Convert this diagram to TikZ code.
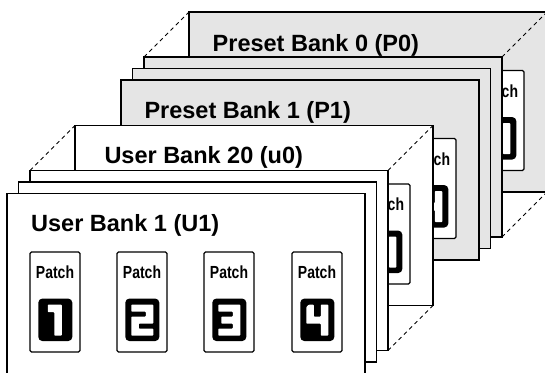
\documentclass[tikz,border=0pt]{standalone}
\usepackage{graphicx}
\usepackage{fontspec}
\setmainfont{Liberation Sans}
\tikzset{
  x=1pt, y=-1pt,
  cardbox/.style={draw=black, line width=1.4pt, minimum width=358pt, minimum height=180pt,
    inner sep=0pt, outer sep=0pt, anchor=north west},
  presetcard/.style={cardbox, fill=black!10},
  usercard/.style={cardbox, fill=white},
  banktitle/.style={anchor=base west, inner sep=0pt, font=\fontsize{23.5}{28}\selectfont\bfseries},
  patchbox/.style={draw=black, line width=1.1pt, fill=white, rounded corners=1.5pt,
    minimum width=50pt, minimum height=100pt, inner sep=0pt, outer sep=0pt, anchor=north west},
  patchlabel/.style={anchor=base, inner sep=0pt, font=\fontsize{17.5}{20}\selectfont\bfseries},
  numbox/.style={fill=black, rounded corners=4pt, minimum width=34pt, minimum height=42.4pt,
    inner sep=0pt, outer sep=0pt, anchor=north west},
  bankdash/.style={dash pattern=on 4pt off 3.5pt, line width=0.9pt},
  digitfill/.style={fill=white, rounded corners=0.8pt},
}
\newcommand\digitI{\fill[digitfill] (3.5,0)--(17.5,0)--(17.5,31)--(10,31)--(10,7.5)--(3.5,7.5)--cycle;}
\newcommand\digitII{\fill[digitfill] (0,0)--(22,0)--(22,19)--(7.5,19)--(7.5,24)--(22,24)--(22,31)--(0,31)--(0,12)--(14.5,12)--(14.5,7)--(0,7)--cycle;}
\newcommand\digitIII{\fill[digitfill] (0,0)--(22,0)--(22,31)--(0,31)--(0,24)--(14.5,24)--(14.5,19)--(3,19)--(3,12)--(14.5,12)--(14.5,7)--(0,7)--cycle;}
\newcommand\digitIV{\fill[digitfill] (0,2.5)--(2.5,0)--(7.5,0)--(7.5,12)--(14.5,12)--(14.5,0)--(22,0)--(22,31)--(14.5,31)--(14.5,19)--(0,19)--cycle;}
% #1 name, #2 x, #3 y, #4 digit command
\newcommand\mkpatch[4]{%
  \node[patchbox] (#1) at (#2,#3) {};
  \node[patchlabel] (#1-lab) at (#2+25,#3+26.6) {\scalebox{0.8}[1]{Patch}};
  \node[numbox] (#1-num) at (#2+8.3,#3+46.6) {};
  \begin{scope}[shift={(#2+14.3,#3+52.6)}]#4\end{scope}%
}
\newcommand\mkpatches[3]{%
  \mkpatch{#1-1}{#2+23}{#3+58.5}{\digitI}%
  \mkpatch{#1-2}{#2+110}{#3+58.5}{\digitII}%
  \mkpatch{#1-3}{#2+197}{#3+58.5}{\digitIII}%
  \mkpatch{#1-4}{#2+285}{#3+58.5}{\digitIV}%
}
% only the fourth patch, clipped to the part right of x=#4
\newcommand\mklastpatch[4]{%
  \begin{scope}
    \clip (#4,#3) rectangle (560,#3+190);
    \mkpatch{#1-4}{#2+285}{#3+58.5}{\digitIV}%
  \end{scope}%
}
\begin{document}
\begin{tikzpicture}
\useasboundingbox (0,0) rectangle (545,372);
% ---- preset group ----
\node[presetcard] (P0) at (189,12) {};
\node[banktitle] (P0t) at (212.5,51.5) {Preset Bank 0 (P0)};
\mklastpatch{P0}{189}{12}{502}
\node[presetcard] (Pa) at (144,57) {};
\draw[bankdash] (Pa.north west) -- (P0.north west);
\draw[bankdash] (Pa.north east) -- (P0.north east);
\draw[bankdash] (Pa.south east) -- (P0.south east);
\node[presetcard] (Pb) at (132.5,68.5) {};
\node[presetcard] (P1) at (121,80) {};
\node[banktitle] (P1t) at (144.3,118.3) {Preset Bank 1 (P1)};
\mklastpatch{P1}{121}{80}{433}
% ---- user group ----
\node[usercard] (u0) at (75,125.5) {};
\node[banktitle] (u0t) at (104.3,163.3) {User Bank 20 (u0)};
\mklastpatch{u0}{75}{125.5}{388}
\node[usercard] (Ua) at (30,170.5) {};
\draw[bankdash] (Ua.north west) -- (u0.north west);
\draw[bankdash] (Ua.north east) -- (u0.north east);
\draw[bankdash] (Ua.south east) -- (u0.south east);
\node[usercard] (Ub) at (18.5,182) {};
\node[usercard] (U1) at (7,193.5) {};
\node[banktitle] (U1t) at (31,231.7) {User Bank 1 (U1)};
\mkpatches{U1}{7}{193.5}
\end{tikzpicture}
\end{document}
